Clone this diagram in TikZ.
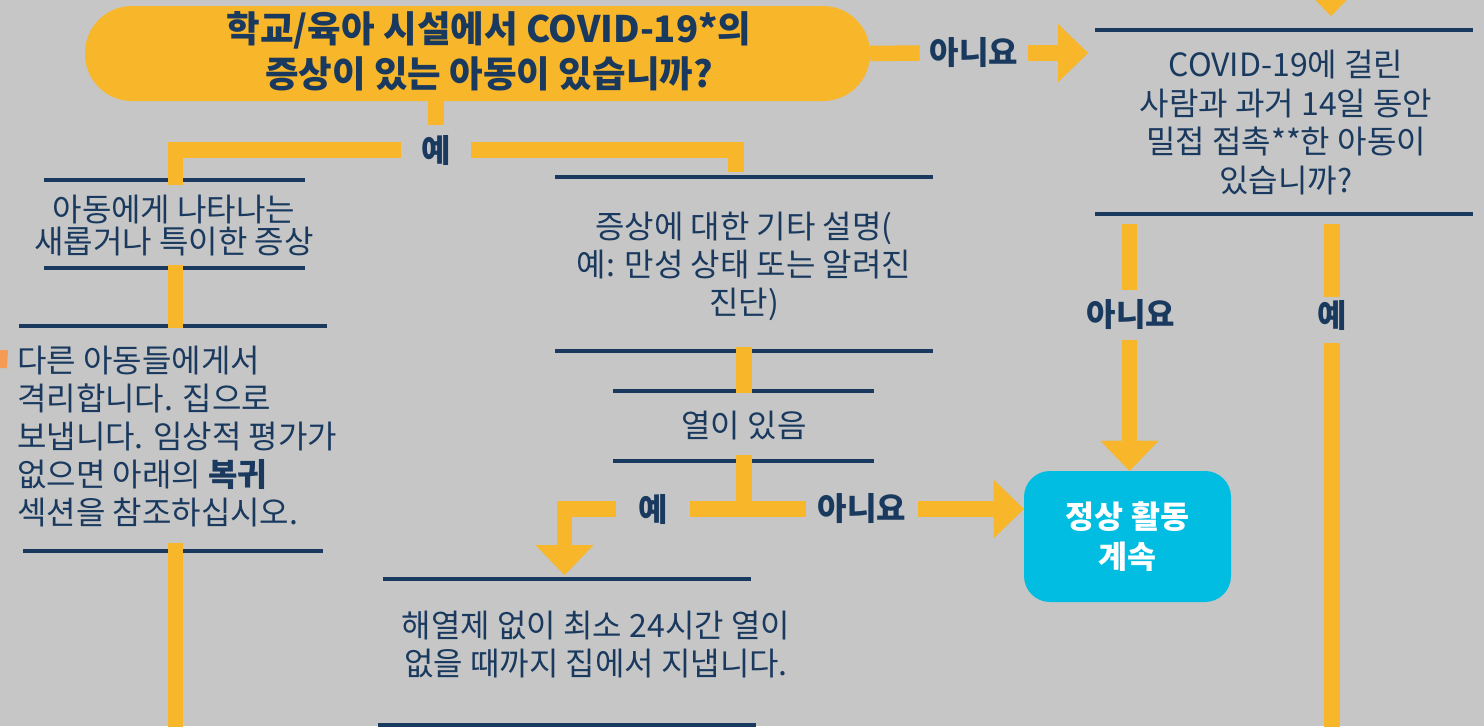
\documentclass[tikz,border=0pt]{standalone}
\usepackage{fontspec}
\setmainfont{Noto Sans CJK KR}
\usetikzlibrary{arrows.meta}
\definecolor{bg}{RGB}{197,198,197}
\definecolor{ylw}{RGB}{248,182,42}
\definecolor{navy}{RGB}{26,57,95}
\definecolor{cyanbox}{RGB}{0,189,225}
\definecolor{orng}{RGB}{245,155,85}
\tikzset{
  bar/.style={draw=ylw, line width=15.5pt},
  arr/.style={bar, -{Triangle[width=58pt,length=30pt,line width=0.01pt]}},
  rulel/.style={draw=navy, line width=4.5pt},
  body/.style={text=navy, font=\fontsize{32pt}{38pt}\selectfont, align=center, inner sep=0pt},
  lbl/.style={text=navy, font=\bfseries\fontsize{32pt}{32pt}\selectfont, inner ysep=10pt},
  pill/.style={fill=ylw, rounded corners=47pt, minimum width=785pt, minimum height=95pt, inner sep=0pt},
  gobox/.style={fill=cyanbox, rounded corners=26pt, minimum width=207pt, minimum height=131pt,
    text=white, font=\bfseries\fontsize{31.5pt}{40pt}\selectfont, align=center, inner sep=0pt},
}
\begin{document}
\begin{tikzpicture}[x=1pt,y=-1pt]
\useasboundingbox (0,0) rectangle (1484,726);
\clip (0,0) rectangle (1484,726);
\fill[bg] (0,0) rectangle (1484,726);

% ---- rules (box separators)
\draw[rulel] (44,180) -- (305,180);
\draw[rulel] (44,268) -- (305,268);
\draw[rulel] (19,326) -- (327,326);
\draw[rulel] (23,551) -- (323,551);
\draw[rulel] (555,177) -- (933,177);
\draw[rulel] (555,351) -- (933,351);
\draw[rulel] (613,391) -- (874,391);
\draw[rulel] (613,461) -- (874,461);
\draw[rulel] (383,579) -- (751,579);
\draw[rulel] (378,725) -- (756,725);
\draw[rulel] (1095,30) -- (1473,30);
\draw[rulel] (1095,214) -- (1473,214);

% ---- small orange mark at left edge
\fill[orng] (0,350) -- (8,350) -- (7,368) -- (0,368) -- cycle;

% ---- nodes
\node[pill] (q1) at (477.5,53.5) {};
\node[text=navy, font=\bfseries\fontsize{36.5pt}{45pt}\selectfont, align=center, inner sep=0pt]
  (q1t) at (489,51) {학교/육아 시설에서 COVID-19*의\\증상이 있는 아동이 있습니까?};
\node[lbl, inner xsep=10pt] (no1) at (974,53) {아니요};
\node[lbl, inner xsep=20.5pt] (yes1) at (436,150) {예};

\node[body] (sym) at (174,226) [font=\fontsize{32pt}{32pt}\selectfont] {아동에게 나타나는\\새롭거나 특이한 증상};
\node[body, align=left, anchor=west] (iso) at (17,437)
  {다른 아동들에게서\\격리합니다. 집으로\\보냅니다. 임상적 평가가\\없으면 아래의 \textbf{복귀}\\섹션을 참조하십시오.};
\node[body] (oth) at (744,266.5) {증상에 대한 기타 설명(\\예: 만성 상태 또는 알려진\\진단)};
\node[body] (fever) at (744,426) {열이 있음};
\node[lbl, inner xsep=22.5pt] (yes3) at (653,509) {예};
\node[lbl, inner xsep=12pt] (no3) at (862,509) {아니요};
\node[body] (home) at (596,645) {해열제 없이 최소 24시간 열이\\없을 때까지 집에서 지냅니다.};

\node[body] (q2) at (1286,122.5) [font=\fontsize{32pt}{38.5pt}\selectfont]
  {COVID-19에 걸린\\사람과 과거 14일 동안\\밀접 접촉**한 아동이\\있습니까?};
\node[lbl] (no2) at (1131,315) {아니요};
\node[lbl, inner ysep=3pt] (yes2) at (1332,315) {예};
\node[gobox] (go) at (1127.5,536.5) {정상 활동\\계속};

% ---- coordinates for connector ends at the rules
\coordinate (topin) at (1331,-40);
\coordinate (q2n) at (1331,16);
\coordinate (q2in) at (1088,53);
\coordinate (symn) at (175.5,185);
\coordinate (othn) at (736,172);
\coordinate (syms) at (175.5,265);
\coordinate (ison) at (175.5,328);
\coordinate (isos) at (175.5,543);
\coordinate (isoend) at (175.5,760);
\coordinate (oths) at (744,347);
\coordinate (fevn) at (744,393);
\coordinate (fevs) at (744,455);
\coordinate (fevj) at (744,509.5);
\coordinate (homen) at (564.5,575);
\coordinate (q2sa) at (1129.5,224);
\coordinate (q2sb) at (1332,224);
\coordinate (yesend) at (1332,760);

% ---- connectors
\draw[arr] (topin) -- (q2n);
\draw[bar] (q1.east) -- (no1.west);
\draw[arr] (no1.east) -- (q2in);
\draw[bar] (yes1 |- q1.south) -- (yes1.north);
\draw[bar] (yes1.west) -| (symn);
\draw[bar] (yes1.east) -| (othn);
\draw[bar] (syms) -- (ison);
\draw[bar] (isos) -- (isoend);
\draw[bar] (oths) -- (fevn);
\draw[bar] (fevs) -- (fevj);
\draw[bar] (yes3.east) -- (no3.west);
\draw[arr] (no3.east) -- (go.west |- no3);
\draw[arr] (yes3.west) -| (homen);
\draw[bar] (q2sa) -- (q2sa |- no2.north);
\draw[arr] (q2sa |- no2.south) -- (q2sa |- go.north);
\draw[bar] (q2sb) -- (yes2.north);
\draw[bar] (yes2.south) ++(0,10) -- (yesend);
\end{tikzpicture}
\end{document}
